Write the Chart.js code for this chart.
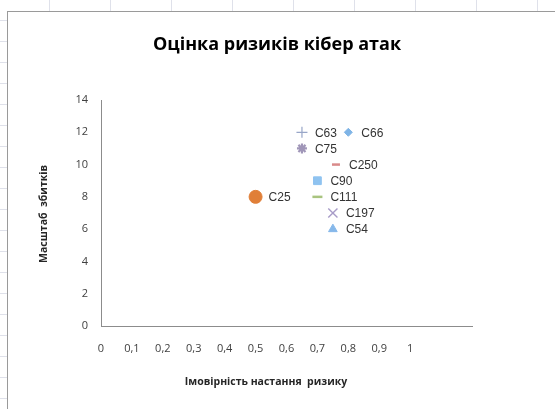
<!DOCTYPE html>
<html>
<head>
<meta charset="utf-8">
<script src="https://cdn.jsdelivr.net/npm/chart.js@4"></script>
<style>
  body {
    margin: 0;
    width: 555px;
    height: 409px;
    overflow: hidden;
    background: #fff;
  }
  #sheetTop {
    position: absolute; left: 0; top: 0; width: 555px; height: 11px;
    background: repeating-linear-gradient(90deg, transparent 0 49px, #dfe1ea 49px 50px, transparent 50px 61px);
  }
  #sheetLeft {
    position: absolute; left: 0; top: 0; width: 7px; height: 409px;
    background: repeating-linear-gradient(180deg, transparent 0 20px, #dfe1ea 20px 21px);
  }
  #frame {
    position: absolute;
    left: 7px;
    top: 11px;
    width: 560px;
    height: 410px;
    border-left: 1px solid #9a9a9a;
    border-top: 1px solid #9a9a9a;
    background: #fff;
  }
  canvas { display: block; }
</style>
</head>
<body>
<div id="sheetTop"></div>
<div id="sheetLeft"></div>
<div id="frame"><canvas id="riskChart" width="547" height="397"></canvas></div>
<script>
// Risk data (one series per attack)
const seriesNames = ['C63', 'C66', 'C75', 'C250', 'C90', 'C111', 'C25', 'C197', 'C54'];
const probability = [0.65, 0.8, 0.65, 0.76, 0.7, 0.7, 0.5, 0.75, 0.75];
const damage = [12, 12, 11, 10, 9, 8, 8, 7, 6];
const markerStyles = ['cross', 'rectRot', 'star', 'line', 'rect', 'line', 'circle', 'crossRot', 'triangle'];
const markerColors = ['#98a6c8', '#7fb4e6', '#a096b8', '#d98a8a', '#8fc3f0', '#a9c47f', '#e07f38', '#a89cc8', '#86b8ea'];
const markerSizes = [5.5, 4, 5, 4, 5.5, 5, 6.5, 6.5, 5];
const markerWidths = [1.2, 1, 2.2, 2.5, 1, 2.5, 1, 1.4, 1];

const xTitle = 'Імовірність настання  ризику';
const yTitle = 'Масштаб  збитків';
const chartTitle = 'Оцінка ризиків кібер атак';

const datasets = seriesNames.map((name, i) => ({
    label: name,
    data: [{ x: probability[i], y: damage[i] }],
    pointStyle: markerStyles[i],
    pointRadius: markerSizes[i],
    pointHoverRadius: markerSizes[i],
    backgroundColor: markerColors[i],
    borderColor: markerColors[i],
    pointBorderWidth: markerWidths[i]
}));

// Titles and point labels drawn by hand, Excel style
const decorPlugin = {
    id: 'decor',
    afterDatasetsDraw(chart) {
        const ctx = chart.ctx;
        ctx.save();
        ctx.fillStyle = '#333';
        ctx.font = '12px "Liberation Sans", Arial, sans-serif';
        ctx.textBaseline = 'middle';
        ctx.textAlign = 'left';
        chart.data.datasets.forEach((ds, i) => {
            const el = chart.getDatasetMeta(i).data[0];
            ctx.fillText(ds.label, el.x + 13, el.y + 1);
        });

        ctx.fillStyle = '#000';
        ctx.textAlign = 'center';
        ctx.font = 'bold 18px "Open Sans", "Noto Sans", sans-serif';
        ctx.fillText(chartTitle, 269, 33);

        ctx.fillStyle = '#262626';
        ctx.font = 'bold 10.5px "Open Sans", "Noto Sans", sans-serif';
        ctx.fillText(xTitle, 258, 370);

        ctx.translate(36, 202);
        ctx.rotate(-Math.PI / 2);
        ctx.fillText(yTitle, 0, 0);
        ctx.restore();
    }
};

new Chart(document.getElementById('riskChart'), {
    type: 'scatter',
    data: { datasets: datasets },
    options: {
        responsive: false,
        animation: false,
        layout: { padding: { left: 0, top: 88, right: 83, bottom: 0 } },
        plugins: {
            legend: { display: false },
            title: { display: false },
            tooltip: { enabled: false }
        },
        scales: {
            x: {
                type: 'linear',
                min: 0,
                max: 1.2,
                afterFit: s => { s.height = 83; },
                grid: { color: 'rgba(0,0,0,0)', drawTicks: false },
                border: { display: true, color: '#8c8c8c', width: 1 },
                ticks: {
                    stepSize: 0.1,
                    padding: 16,
                    color: '#404040',
                    font: { size: 11, family: '"Open Sans", "Noto Sans", sans-serif' },
                    callback: v => v > 1.0001 ? '' : String(Math.round(v * 10) / 10).replace('.', ',')
                }
            },
            y: {
                type: 'linear',
                min: 0,
                max: 14,
                afterFit: s => { s.width = 93; },
                grid: { color: 'rgba(0,0,0,0)', drawTicks: false },
                border: { display: true, color: '#8c8c8c', width: 1 },
                ticks: {
                    stepSize: 2,
                    padding: 13,
                    color: '#404040',
                    font: { size: 11, family: '"Open Sans", "Noto Sans", sans-serif' }
                }
            }
        }
    },
    plugins: [decorPlugin]
});
</script>
</body>
</html>
